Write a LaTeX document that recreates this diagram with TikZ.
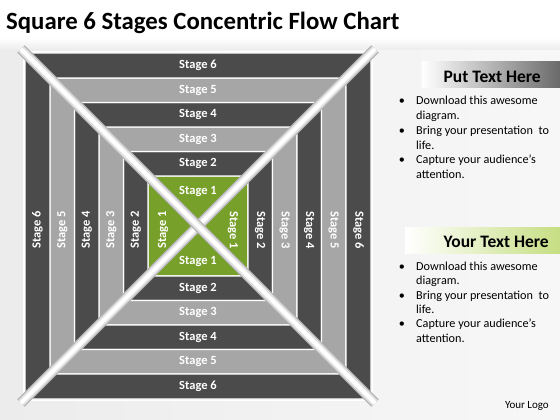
\documentclass[tikz,border=0pt]{standalone}
\usepackage{fontspec}
\setmainfont{Carlito}
\definecolor{dk}{HTML}{4B4B4B}
\definecolor{lt}{HTML}{A6A6A6}
\definecolor{gr}{HTML}{77A02A}
\definecolor{bgg}{HTML}{ECECEC}
\definecolor{hdgray}{HTML}{6A6A6A}
\definecolor{hdgreen}{HTML}{C6DE82}
\tikzset{
  band/.style={draw=white, line width=1.3pt, line join=miter},
  stagelbl/.style={text=white, font=\fontsize{12.5}{14}\selectfont\bfseries, inner sep=0pt},
  bul/.style={anchor=west, font=\fontsize{12.2}{14}\selectfont, inner sep=0pt, text height=8.5pt, text depth=2.5pt},
  hdr/.style={anchor=east, font=\fontsize{17.5}{20}\selectfont\bfseries, inner sep=0pt}
}
\begin{document}
\begin{tikzpicture}[x=1pt,y=-1pt]
\useasboundingbox (0,0) rectangle (560,420);
% background
\shade[left color=bgg, right color=white!97!black] (0,44) rectangle (560,420);
\shade[top color=white, bottom color=bgg] (0,38) rectangle (560,50);
\fill[white] (0,0) rectangle (560,38);
\node[anchor=base west, font=\fontsize{24.8}{28}\selectfont\bfseries, inner sep=0pt] (title) at (6,29.5) {Square 6 Stages Concentric Flow Chart};
% concentric square
\def\cx{198}\def\cy{226}
\fill[white] (\cx-175,\cy-175) rectangle (\cx+175,\cy+175);
\foreach \k/\ri/\ro/\col in {1/0/50/gr, 2/50/74.5/dk, 3/74.5/99/lt, 4/99/123.5/dk, 5/123.5/148/lt, 6/148/173/dk}{
  \filldraw[band, fill=\col] (\cx-\ro,\cy-\ro) -- (\cx+\ro,\cy-\ro) -- (\cx+\ri,\cy-\ri) -- (\cx-\ri,\cy-\ri) -- cycle;
  \filldraw[band, fill=\col] (\cx-\ro,\cy+\ro) -- (\cx+\ro,\cy+\ro) -- (\cx+\ri,\cy+\ri) -- (\cx-\ri,\cy+\ri) -- cycle;
  \filldraw[band, fill=\col] (\cx-\ro,\cy-\ro) -- (\cx-\ro,\cy+\ro) -- (\cx-\ri,\cy+\ri) -- (\cx-\ri,\cy-\ri) -- cycle;
  \filldraw[band, fill=\col] (\cx+\ro,\cy-\ro) -- (\cx+\ro,\cy+\ro) -- (\cx+\ri,\cy+\ri) -- (\cx+\ri,\cy-\ri) -- cycle;
}
% diagonal bars
\foreach \a in {-1, 1}{
  \draw[line width=10.5pt, black!30] (\cx-177,\cy-177*\a) -- (\cx+177,\cy+177*\a);
  \draw[line width=8pt, black!12] (\cx-177,\cy-177*\a) -- (\cx+177,\cy+177*\a);
  \draw[line width=4pt, white] (\cx-177,\cy-177*\a) -- (\cx+177,\cy+177*\a);
}
% labels
\foreach \k/\m in {1/35, 2/62.25, 3/86.75, 4/111.25, 5/135.75, 6/160.5}{
  \node[stagelbl] (t\k) at (\cx,\cy-\m) {Stage \k};
  \node[stagelbl] (b\k) at (\cx,\cy+\m) {Stage \k};
  \node[stagelbl, rotate=90] (l\k) at (\cx-\m,\cy+4) {Stage \k};
  \node[stagelbl, rotate=-90] (r\k) at (\cx+\m,\cy+4) {Stage \k};
}
% right panel
\shade[left color=white, right color=hdgray] (422,62) rectangle (560,88);
\node[hdr] (h1) at (541,77) {Put Text Here};
\foreach \y/\t/\b in {102/Download this awesome/1, 117/diagram./0, 131.5/Bring your presentation\ \ to/1, 146/life./0, 160.5/Capture your audience’s/1, 175/attention./0}{
  \node[bul] at (416,\y) {\t};
  \ifnum\b=1 \node[bul, anchor=center] at (402,\y) {•}; \fi
}
\shade[left color=white, right color=hdgreen] (405,227) rectangle (560,253);
\node[hdr] (h2) at (549,242) {Your Text Here};
\foreach \y/\t/\b in {267/Download this awesome/1, 281.5/diagram./0, 296/Bring your presentation\ \ to/1, 310/life./0, 324.5/Capture your audience’s/1, 339/attention./0}{
  \node[bul] at (416,\y) {\t};
  \ifnum\b=1 \node[bul, anchor=center] at (402,\y) {•}; \fi
}
\node[anchor=east, font=\fontsize{11}{13}\selectfont, inner sep=0pt] (logo) at (549,406) {Your Logo};
\end{tikzpicture}
\end{document}
